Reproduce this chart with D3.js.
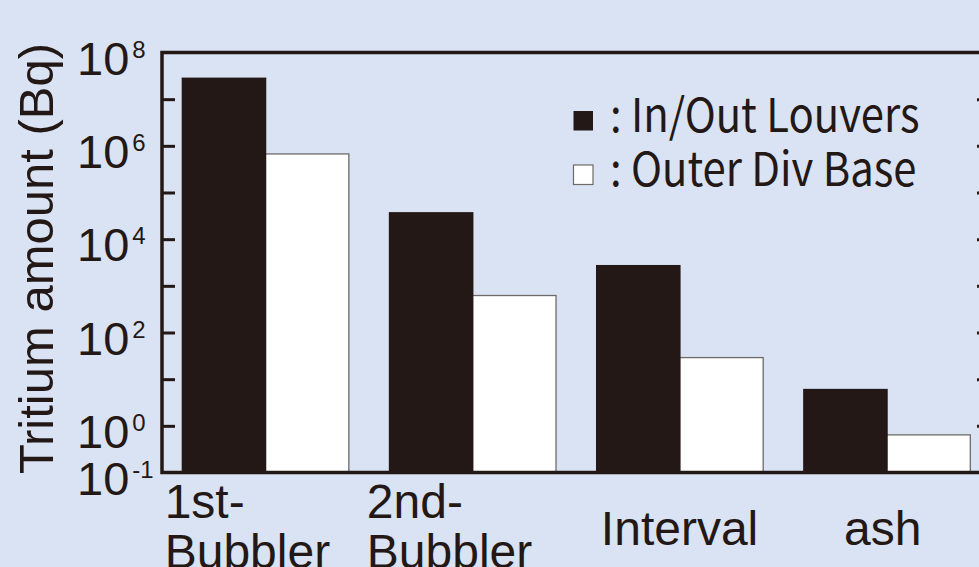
<!DOCTYPE html>
<html>
<head>
<meta charset="utf-8">
<script src="https://cdn.jsdelivr.net/npm/d3@7"></script>
<style>
  html, body { margin: 0; padding: 0; background: #d9e3f3; }
  svg { display: block; }
</style>
</head>
<body>
<svg id="chart" width="979" height="567"></svg>
<script>
// Tritium amount per sample location (Bq), log scale
const categories = ["1st-Bubbler", "2nd-Bubbler", "Interval", "ash"];
const categoryLines = [["1st-", "Bubbler"], ["2nd-", "Bubbler"], ["Interval"], ["ash"]];
const seriesNames = ["In/Out Louvers", "Outer Div Base"];
const inOutLouvers = [2.9e7, 3.8e4, 2.8e3, 6.2];
const outerDivBase = [6.7e5, 6.2e2, 29, 0.64];
const tickExponents = [8, 6, 4, 2, 0, -1];
const minorExponents = [7, 6, 5, 4, 3, 2, 1, 0];

const ink = "#231815";
const svg = d3.select("#chart");

const plotLeft = 162, plotRight = 990, plotTop = 52.5, plotBottom = 472.5;

const y = d3.scaleLog().domain([0.1, 1e8]).range([plotBottom, plotTop]);
const x0 = d3.scaleBand().domain(categories).range([plotLeft, plotRight])
  .paddingInner(0.193).paddingOuter(0.095);
const x1 = d3.scaleBand().domain(seriesNames).range([0, x0.bandwidth()]);

const fills = ["#231815", "#ffffff"];
const rows = categories.map((c, i) => ({ c, vals: [inOutLouvers[i], outerDivBase[i]] }));

// bars: white (outlined) first so the dark bar overlaps its shared edge
const g = svg.append("g");
rows.forEach(r => {
  [1, 0].forEach(s => {
    const v = r.vals[s];
    const bx = x0(r.c) + x1(seriesNames[s]) + (s === 1 ? -1 : 0);
    g.append("rect")
      .attr("x", bx)
      .attr("y", y(v))
      .attr("width", x1.bandwidth() + 1)
      .attr("height", plotBottom - y(v))
      .attr("fill", fills[s])
      .attr("stroke", s === 1 ? "#6e6a69" : "none")
      .attr("stroke-width", 1.3);
  });
});

// frame
svg.append("rect")
  .attr("x", plotLeft).attr("y", plotTop)
  .attr("width", plotRight - plotLeft).attr("height", plotBottom - plotTop)
  .attr("fill", "none").attr("stroke", ink).attr("stroke-width", 3.5);

// inward ticks on left and right axes
const tickVals = minorExponents.map(e => Math.pow(10, e));
const leftAxis = d3.axisRight(y).tickValues(tickVals).tickSize(13).tickFormat("");
const rightAxis = d3.axisLeft(y).tickValues(tickVals).tickSize(13).tickFormat("");
[[leftAxis, plotLeft], [rightAxis, plotRight]].forEach(([ax, px]) => {
  const a = svg.append("g").attr("transform", `translate(${px},0)`).call(ax);
  a.select(".domain").remove();
  a.selectAll("line").attr("stroke", ink).attr("stroke-width", 3);
});

// tick labels: 10 with exponent
const labFont = "'Liberation Sans', Arial, Helvetica, sans-serif";
tickExponents.forEach(e => {
  const t = svg.append("text")
    .attr("x", 77)
    .attr("y", y(Math.pow(10, e)) + 22)
    .attr("font-family", labFont)
    .attr("font-size", 47)
    .attr("fill", ink);
  t.append("tspan").text("10");
  t.append("tspan").attr("dx", 3).attr("dy", -17).attr("font-size", 24).text(String(e));
});

// y-axis title
svg.append("text")
  .attr("transform", `translate(53,${(plotTop + plotBottom) / 2 - 4}) rotate(-90)`)
  .attr("text-anchor", "middle")
  .attr("font-family", labFont)
  .attr("font-size", 49)
  .attr("fill", ink)
  .text("Tritium amount (Bq)");

// category labels
const catDx = [-17, -22, 0, -4];
categoryLines.forEach((lines, i) => {
  const c = categories[i];
  const cx = x0(c) + x0.bandwidth() / 2;
  const multi = lines.length > 1;
  const t = svg.append("text")
    .attr("font-family", labFont)
    .attr("font-size", 48)
    .attr("fill", ink)
    .attr("text-anchor", multi ? "start" : "middle");
  lines.forEach((ln, j) => {
    t.append("tspan")
      .attr("x", multi ? x0(c) + catDx[i] : cx + catDx[i])
      .attr("y", multi ? 518 + j * 49.5 : 545)
      .text(ln);
  });
});

// legend (narrow sans face, condensed horizontally)
const legFont = "'Noto Sans CJK JP', 'Noto Sans', sans-serif";
const leg = svg.append("g");
seriesNames.forEach((name, i) => {
  const ly = 111 + i * 54;
  leg.append("rect")
    .attr("x", 573.5).attr("y", ly)
    .attr("width", 19.5).attr("height", 19.5)
    .attr("fill", fills[i])
    .attr("stroke", i === 1 ? "#6e6a69" : "none")
    .attr("stroke-width", 1.2);
  leg.append("text")
    .attr("transform", `translate(610,${ly + 21}) scale(0.89,1)`)
    .attr("font-family", legFont)
    .attr("font-size", 47)
    .attr("fill", ink)
    .text(": " + name);
});
</script>
</body>
</html>
